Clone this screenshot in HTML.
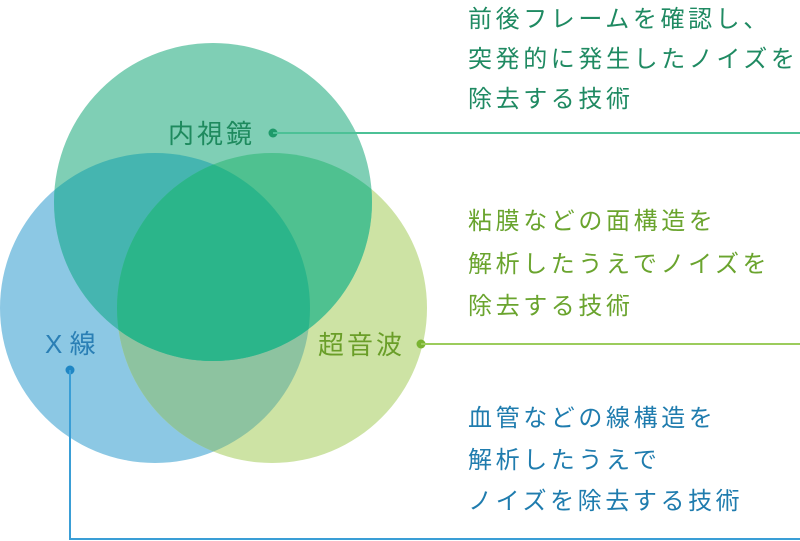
<!DOCTYPE html>
<html><head><meta charset="utf-8"><style>
html,body{margin:0;padding:0;background:#fff;width:800px;height:541px;overflow:hidden}
svg{display:block}
text{font-family:"Liberation Sans","Noto Sans CJK JP",sans-serif}
</style></head><body>
<svg width="800" height="541" viewBox="0 0 800 541" xmlns="http://www.w3.org/2000/svg">
<defs>
<clipPath id="cL"><circle cx="155" cy="308" r="155"/></clipPath>
<clipPath id="cR"><circle cx="272" cy="308" r="155"/></clipPath>
<clipPath id="cT"><circle cx="213" cy="202" r="159"/></clipPath>
</defs>
<circle cx="155" cy="308" r="155" fill="#8cc8e4"/>
<circle cx="272" cy="308" r="155" fill="#cde3a4"/>
<g clip-path="url(#cL)"><circle cx="272" cy="308" r="155" fill="#8dc3a0"/></g>
<circle cx="213" cy="202" r="159" fill="#7fcfb5"/>
<g clip-path="url(#cT)"><circle cx="155" cy="308" r="155" fill="#45b5b0"/></g>
<g clip-path="url(#cT)"><circle cx="272" cy="308" r="155" fill="#4fc190"/></g>
<g clip-path="url(#cT)"><g clip-path="url(#cL)"><circle cx="272" cy="308" r="155" fill="#2bb58a"/></g></g>

<text x="168" y="143" font-size="26" letter-spacing="3" fill="#1e8a5e">内視鏡</text>
<circle cx="273" cy="133" r="4.5" fill="#1e9a6a"/>
<line x1="273" y1="133" x2="800" y2="133" stroke="#4cc196" stroke-width="2"/>

<text x="318" y="354" font-size="26" letter-spacing="3" fill="#6a9e28">超音波</text>
<circle cx="421" cy="344" r="4.5" fill="#7ab432"/>
<line x1="421" y1="344" x2="800" y2="344" stroke="#9ccc5c" stroke-width="2"/>

<text x="45" y="353" font-size="26" fill="#2a7fb5">X 線</text>
<circle cx="70" cy="370" r="4.5" fill="#1f86c4"/>
<polyline points="70,370 70,539 800,539" fill="none" stroke="#3a9ed6" stroke-width="2"/>

<g font-size="24" letter-spacing="3.6" fill="#1f8a62">
<text x="468" y="27">前後フレームを確認し、</text>
<text x="468" y="67">突発的に発生したノイズを</text>
<text x="468" y="107">除去する技術</text>
</g>
<g font-size="24" letter-spacing="3.6" fill="#6aa42e">
<text x="468" y="229">粘膜などの面構造を</text>
<text x="468" y="272">解析したうえでノイズを</text>
<text x="468" y="314">除去する技術</text>
</g>
<g font-size="24" letter-spacing="3.6" fill="#1f7cae">
<text x="468" y="426">血管などの線構造を</text>
<text x="468" y="468">解析したうえで</text>
<text x="468" y="509">ノイズを除去する技術</text>
</g>
</svg>
</body></html>
